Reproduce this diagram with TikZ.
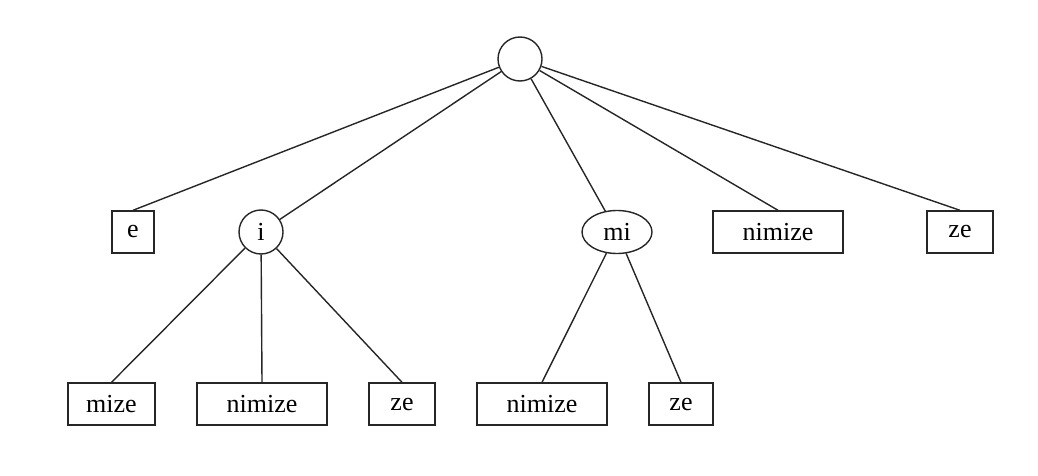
\documentclass[tikz,border=0pt]{standalone}
\usepackage{fontspec}
\setmainfont{Liberation Serif}
\usetikzlibrary{shapes.geometric}
\begin{document}
\begin{tikzpicture}[x=1pt,y=-1pt,
  every node/.style={font=\fontsize{26}{31}\selectfont, inner sep=0pt, draw=black!85, line width=1.4pt},
  leaf/.style={rectangle, minimum height=42pt},
  inner/.style={circle, minimum size=44pt},
  oval/.style={ellipse, minimum width=70pt, minimum height=43pt},
  edge/.style={draw=black!85, line width=1.4pt}]
\useasboundingbox (0,0) rectangle (1038,476);
% root and first level
\node[inner] (root) at (520,59) {};
\node[leaf, minimum width=42pt] (e) at (133,232) {e};
\node[inner] (i) at (261,232) {i};
\node[oval] (mi) at (617,232) {mi};
\node[leaf, minimum width=130pt] (nim1) at (778,232) {nimize};
\node[leaf, minimum width=66pt] (ze1) at (960,232) {ze};
% second level
\node[leaf, minimum width=87pt] (mize) at (111.5,404) {mize};
\node[leaf, minimum width=130pt] (nim2) at (262,404) {nimize};
\node[leaf, minimum width=66pt] (ze2) at (402,404) {ze};
\node[leaf, minimum width=130pt] (nim3) at (542,404) {nimize};
\node[leaf, minimum width=64pt] (ze3) at (681,404) {ze};
% edges
\path[edge] (root) -- (e.north);
\path[edge] (root) -- (i);
\path[edge] (root) -- (mi);
\path[edge] (root) -- (nim1.north);
\path[edge] (root) -- (ze1.north);
\path[edge] (i) -- (mize.north);
\path[edge] (i) -- (nim2.north);
\path[edge] (i) -- (ze2.north);
\path[edge] (mi) -- (nim3.north);
\path[edge] (mi) -- (ze3.north);
\end{tikzpicture}
\end{document}
